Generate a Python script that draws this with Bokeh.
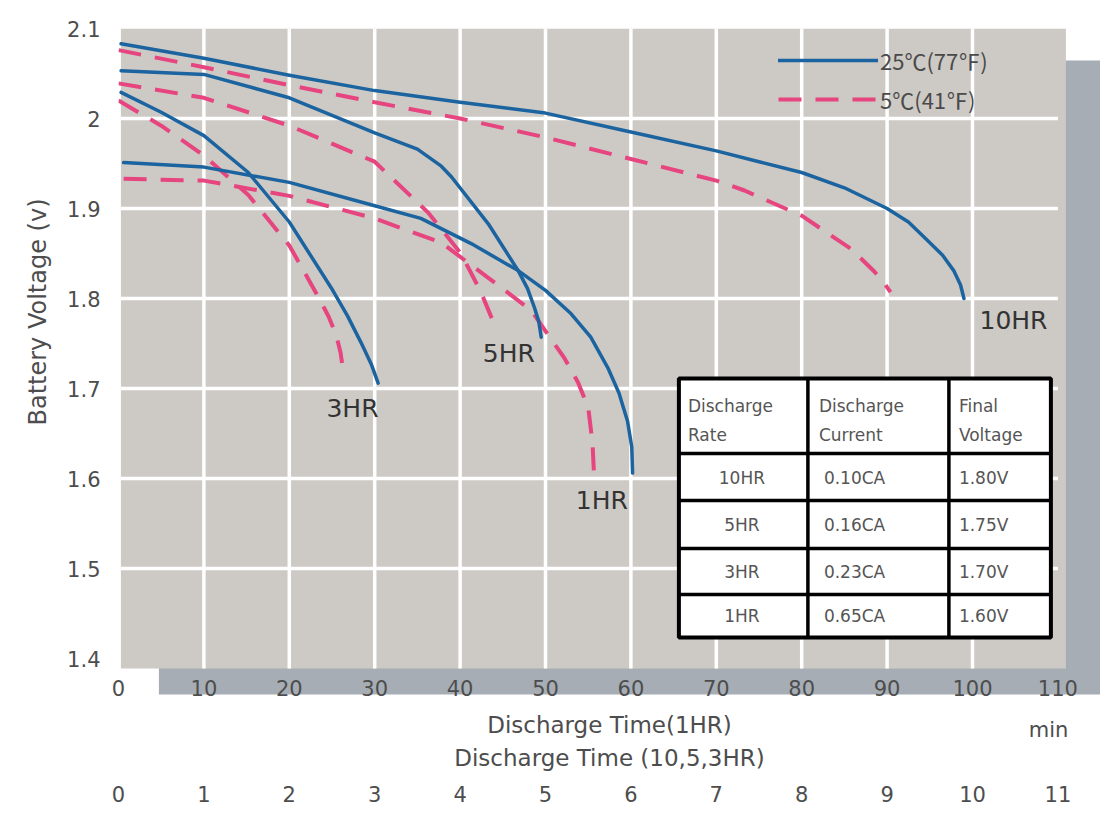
import numpy as np
from bokeh.plotting import figure
from bokeh.models import (Range1d, FixedTicker, LinearAxis, Title, Legend,
                          LegendItem, CustomJSTickFormatter)
from bokeh.core.properties import value
from bokeh.embed import file_html
from bokeh.resources import INLINE

# ---------------- data ----------------
# 25 C (77 F) curves: x in minutes on the 0..110 scale
t10_25 = [0.3, 10, 20, 30, 40, 50, 60, 70, 75, 80, 85, 90, 92.5, 94.8, 96.5, 97.8, 98.6, 99.0]
v10_25 = [2.083, 2.067, 2.048, 2.031, 2.018, 2.006, 1.985, 1.964, 1.952, 1.940, 1.923, 1.900,
          1.885, 1.864, 1.848, 1.831, 1.815, 1.800]
t5_25 = [0.3, 10, 20, 30, 35, 37.8, 39.0, 43.3, 46.8, 47.9, 48.7, 49.2, 49.5]
v5_25 = [2.053, 2.049, 2.023, 1.984, 1.966, 1.947, 1.935, 1.883, 1.831, 1.811, 1.790, 1.775, 1.757]
t3_25 = [0.3, 5, 10, 15.2, 20, 24.9, 26.8, 28.4, 29.6, 30.4]
v3_25 = [2.029, 2.007, 1.981, 1.940, 1.885, 1.812, 1.781, 1.751, 1.727, 1.706]
t1_25 = [0.6, 10, 20, 30, 35.4, 41.3, 46.8, 50.0, 53.0, 55.3, 57.3, 58.6, 59.6, 60.1, 60.2]
v1_25 = [1.951, 1.946, 1.929, 1.903, 1.889, 1.861, 1.831, 1.809, 1.783, 1.757, 1.723, 1.695,
         1.664, 1.635, 1.606]

# 5 C (41 F) curves
t10_5 = [0, 10, 20, 30, 40, 50, 60, 70, 73.3, 80, 85.8, 88.5, 89.6, 90.4]
v10_5 = [2.076, 2.057, 2.037, 2.018, 2.000, 1.979, 1.955, 1.931, 1.920, 1.892, 1.855, 1.830, 1.818, 1.807]
t5_5 = [0, 10, 20, 30, 36.2, 40.1, 42.4, 43.8]
v5_5 = [2.039, 2.023, 1.992, 1.952, 1.896, 1.850, 1.808, 1.776]
t3_5 = [0, 5, 10, 15.2, 20, 23.5, 24.6, 25.5, 26.0, 26.3]
v3_5 = [2.020, 1.992, 1.959, 1.915, 1.859, 1.800, 1.780, 1.759, 1.740, 1.720]
t1_5 = [0.6, 10, 20, 30, 37.8, 43.3, 48.3, 52.2, 53.8, 55.0, 55.5, 55.7]
v1_5 = [1.933, 1.931, 1.914, 1.889, 1.862, 1.823, 1.787, 1.734, 1.707, 1.679, 1.640, 1.601]

series_names = ["25℃(77℉)", "5℃(41℉)"]

curve_labels = ["10HR", "5HR", "3HR", "1HR"]
curve_label_x = [104.8, 45.7, 27.4, 56.6]
curve_label_y = [1.776, 1.739, 1.678, 1.576]

x_ticks = [0, 10, 20, 30, 40, 50, 60, 70, 80, 90, 100, 110]
hr_ticks = [0, 1, 2, 3, 4, 5, 6, 7, 8, 9, 10, 11]
y_ticks = [1.4, 1.5, 1.6, 1.7, 1.8, 1.9, 2.0, 2.1]
grid_x = [10, 20, 30, 40, 50, 60, 70, 80, 90, 100]
grid_y = [1.5, 1.6, 1.7, 1.8, 1.9, 2.0]
unit_tick = 108.9
unit_text = "min"

table_headers = ["Discharge\nRate", "Discharge\nCurrent", "Final\nVoltage"]
rates = ["10HR", "5HR", "3HR", "1HR"]
currents = ["0.10CA", "0.16CA", "0.23CA", "0.65CA"]
finals = ["1.80V", "1.75V", "1.70V", "1.60V"]

# ---------------- styling ----------------
BLUE = "#1b64a0"
PINK = "#e6457f"
PANEL = "#cdc9c5"
SHADOW = "#a6adb5"
TXT = "#4d4d4d"
FONT = "DejaVu Sans"

# pixel->data helpers for layout of annotations (table, panel)
def px_x(px):
    return (px - 117.6) / 8.54

def px_y(py):
    return 2.1 - (py - 28) / 900.0

p = figure(width=1100, height=815,
           x_range=Range1d(0, 982 / 8.54), y_range=Range1d(px_y(694), 2.1),
           output_backend="svg", toolbar_location=None,
           min_border_left=118, min_border_right=0,
           min_border_top=28, min_border_bottom=121)
p.outline_line_color = None
p.grid.visible = False
p.background_fill_color = "white"
p.border_fill_color = "white"

# shadow and panel
p.quad(left=px_x(158), right=130, bottom=1.30, top=px_y(60),
       fill_color=SHADOW, line_color=None)
p.quad(left=px_x(120), right=px_x(1065), bottom=px_y(668), top=2.1,
       fill_color=PANEL, line_color=None)

# white grid
p.segment(x0=grid_x, y0=[px_y(668)] * len(grid_x), x1=grid_x, y1=[2.1] * len(grid_x),
          line_color="white", line_width=3.5)
p.segment(x0=[px_x(120)] * len(grid_y), y0=grid_y, x1=[110] * len(grid_y), y1=grid_y,
          line_color="white", line_width=3.5)

# curves
blue_sets = [(t10_25, v10_25), (t5_25, v5_25), (t3_25, v3_25), (t1_25, v1_25)]
pink_sets = [(t10_5, v10_5), (t5_5, v5_5), (t3_5, v3_5), (t1_5, v1_5)]
pink_r = []
for t, v in pink_sets:
    pink_r.append(p.line(t, v, line_color=PINK, line_width=4, line_dash="23 14"))
blue_r = []
for t, v in blue_sets:
    blue_r.append(p.line(t, v, line_color=BLUE, line_width=3.5, line_join="round",
                         line_cap="round"))

# curve labels
p.text(x=curve_label_x, y=curve_label_y, text=curve_labels,
       text_font=value(FONT), text_font_size="25px", text_color="#333333",
       text_align="center", text_baseline="middle")

# table
p.quad(left=px_x(678), right=px_x(1050), bottom=px_y(637), top=px_y(378),
       fill_color="white", line_color="black", line_width=4)
col_lines = [px_x(807), px_x(948)]
p.segment(x0=col_lines, y0=[px_y(378)] * 2, x1=col_lines, y1=[px_y(637)] * 2,
          line_color="black", line_width=3.5)
row_lines = [px_y(453), px_y(500), px_y(548), px_y(594)]
p.segment(x0=[px_x(678)] * 4, y0=row_lines, x1=[px_x(1050)] * 4, y1=row_lines,
          line_color="black", line_width=3.5)
p.text(x=[px_x(687), px_x(818), px_x(958)], y=[px_y(420)] * 3, text=table_headers,
       text_font=value(FONT), text_font_size="17px", text_color="#555555",
       text_align="left", text_baseline="middle", text_line_height=1.45)
row_y = [px_y(477), px_y(524), px_y(571), px_y(615)]
p.text(x=[px_x(741)] * 4, y=row_y, text=rates, text_font=value(FONT),
       text_font_size="17px", text_color="#555555", text_align="center", text_baseline="middle")
p.text(x=[px_x(823)] * 4, y=row_y, text=currents, text_font=value(FONT),
       text_font_size="17px", text_color="#555555", text_align="left", text_baseline="middle")
p.text(x=[px_x(958)] * 4, y=row_y, text=finals, text_font=value(FONT),
       text_font_size="17px", text_color="#555555", text_align="left", text_baseline="middle")

# legend
legend = Legend(items=[LegendItem(label=series_names[0], renderers=[blue_r[0]]),
                       LegendItem(label=series_names[1], renderers=[pink_r[0]])],
                location=(660, 579), glyph_width=100, glyph_height=30, label_height=30,
                spacing=7, padding=0, margin=0, background_fill_alpha=0,
                border_line_color=None, label_standoff=2,
                label_text_font="Noto Sans CJK SC", label_text_font_size="22px",
                label_text_color="#4a4a4a")
p.add_layout(legend)

# axes
def style_axis(ax, size="21px"):
    ax.axis_line_color = None
    ax.major_tick_line_color = None
    ax.minor_tick_line_color = None
    ax.major_label_text_font = FONT
    ax.major_label_text_font_size = size
    ax.major_label_text_color = TXT
    ax.axis_label_text_font = FONT
    ax.axis_label_text_font_size = "23px"
    ax.axis_label_text_font_style = "normal"
    ax.axis_label_text_color = TXT

xa = p.xaxis[0]
xa.ticker = FixedTicker(ticks=x_ticks)
style_axis(xa)
xa.major_label_standoff = -21
xa.axis_label = "Discharge Time(1HR)"
xa.axis_label_standoff = 13

ya = p.yaxis[0]
ya.ticker = FixedTicker(ticks=y_ticks)
ya.formatter = CustomJSTickFormatter(code="return String(Math.round(tick*10)/10)")
style_axis(ya)
ya.major_label_standoff = 12

# unit marker "min" on the same row as the 1HR axis title
ax_unit = LinearAxis(ticker=FixedTicker(ticks=[unit_tick]),
                     major_label_overrides={unit_tick: unit_text})
style_axis(ax_unit)
ax_unit.major_label_standoff = -29
p.add_layout(ax_unit, "below")

p.add_layout(Title(text="Discharge Time (10,5,3HR)", align="center", text_font=FONT,
                   text_font_size="23px", text_font_style="normal", text_color=TXT,
                   standoff=-4), "below")

p.extra_x_ranges = {"hr": Range1d(0, 982 / 85.4)}
ax2 = LinearAxis(x_range_name="hr", ticker=FixedTicker(ticks=hr_ticks))
style_axis(ax2)
ax2.major_label_standoff = 11
p.add_layout(ax2, "below")

p.add_layout(Title(text="Battery Voltage (v)", align="left", offset=269,
                   vertical_align="top", standoff=22, text_font=FONT,
                   text_font_size="24px", text_font_style="normal", text_color=TXT), "left")

open("out.html", "w").write(file_html(p, INLINE))
